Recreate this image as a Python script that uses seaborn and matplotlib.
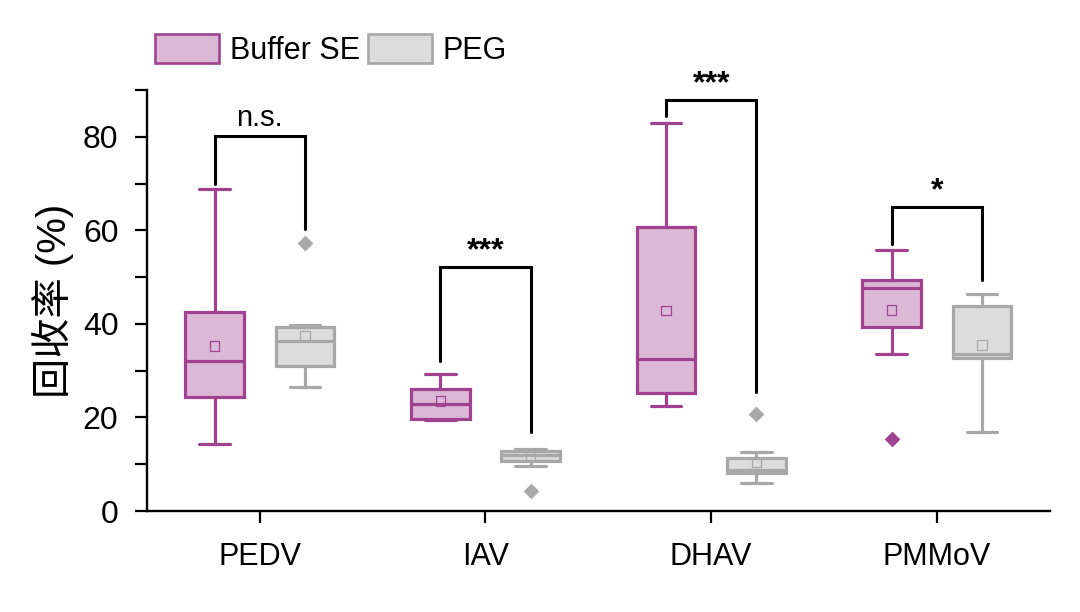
import numpy as np
import pandas as pd
import seaborn as sns
from matplotlib import pyplot as plt
from matplotlib.patches import Patch
from matplotlib.ticker import MultipleLocator

sns.set_theme(style="ticks")
plt.rcParams["font.family"] = ["Liberation Sans", "Noto Sans CJK SC", "DejaVu Sans"]
plt.rcParams["text.color"] = "black"
plt.rcParams["xtick.color"] = "black"
plt.rcParams["ytick.color"] = "black"
plt.rcParams["axes.labelcolor"] = "black"

viruses = ["PEDV", "IAV", "DHAV", "PMMoV"]
groups = ["Buffer SE", "PEG"]

# box statistics (%)
buffer_whislo = [14.3, 19.5, 22.5, 33.6]
buffer_q1 = [24.4, 19.7, 25.2, 39.4]
buffer_med = [32.1, 22.9, 32.5, 47.6]
buffer_q3 = [42.6, 26.0, 60.8, 49.4]
buffer_whishi = [68.9, 29.3, 82.9, 55.8]
buffer_mean = [35.3, 23.5, 42.8, 43.0]
buffer_out = [[], [], [], [15.3]]

peg_whislo = [26.5, 9.7, 5.9, 16.8]
peg_q1 = [31.0, 10.7, 8.2, 32.8]
peg_med = [36.4, 12.0, 8.8, 33.6]
peg_q3 = [39.4, 12.9, 11.4, 43.9]
peg_whishi = [39.8, 13.3, 12.7, 46.3]
peg_mean = [37.4, 11.7, 10.4, 35.5]
peg_out = [[57.3], [4.3], [20.7], []]

# significance brackets: top, left leg end, right leg end, label
sig_top = [80.1, 52.1, 87.8, 64.9]
sig_left = [69.9, 32.1, 84.5, 57.0]
sig_right = [60.3, 16.8, 25.4, 49.4]
sig_text = ["n.s.", "***", "***", "*"]

edge_cols = {"Buffer SE": "#A0428F", "PEG": "#A8A8A8"}
fill_cols = {"Buffer SE": "#DBB8D5", "PEG": "#DCDCDC"}
offset = 0.2
width = 0.26


def make_stats(lo, q1, med, q3, hi, mean, out):
    return [dict(whislo=lo[i], q1=q1[i], med=med[i], q3=q3[i], whishi=hi[i],
                 mean=mean[i], fliers=out[i]) for i in range(len(viruses))]


stats = {"Buffer SE": make_stats(buffer_whislo, buffer_q1, buffer_med, buffer_q3, buffer_whishi, buffer_mean, buffer_out),
         "PEG": make_stats(peg_whislo, peg_q1, peg_med, peg_q3, peg_whishi, peg_mean, peg_out)}

fig = plt.figure(figsize=(10.8, 6.12), dpi=100)
ax = fig.add_axes([0.136, 0.165, 0.836, 0.688])

x = np.arange(len(viruses))
rows = []
for k, g in enumerate(groups):
    pos = x + (-offset if k == 0 else offset)
    ec = edge_cols[g]
    lw = 2.3
    ax.bxp(stats[g], positions=pos, widths=width, capwidths=width * 0.52, patch_artist=True,
           showfliers=False, showmeans=False,
           boxprops=dict(facecolor=fill_cols[g], edgecolor=ec, linewidth=lw),
           medianprops=dict(color=ec, linewidth=lw),
           whiskerprops=dict(color=ec, linewidth=lw),
           capprops=dict(color=ec, linewidth=lw), zorder=2)
    for i, p in enumerate(pos):
        rows.append(dict(x=p, y=stats[g][i]["mean"], group=g, kind="mean"))
        for v in stats[g][i]["fliers"]:
            rows.append(dict(x=p, y=v, group=g, kind="out"))

pts = pd.DataFrame(rows)
means = pts[pts.kind == "mean"]
outs = pts[pts.kind == "out"]
for g in groups:
    sns.scatterplot(data=means[means.group == g], x="x", y="y", marker="s", s=45,
                    facecolor="none", edgecolor=edge_cols[g], linewidth=0.9, ax=ax, zorder=3, legend=False)
    sns.scatterplot(data=outs[outs.group == g], x="x", y="y", marker="D", s=55,
                    color=edge_cols[g], edgecolor=edge_cols[g], ax=ax, zorder=3, legend=False)

# brackets
for i in range(len(viruses)):
    xl, xr = x[i] - offset, x[i] + offset
    ax.plot([xl, xl, xr, xr], [sig_left[i], sig_top[i], sig_top[i], sig_right[i]],
            color="black", lw=2.2, solid_joinstyle="miter", zorder=4)
    if sig_text[i] == "n.s.":
        ax.text(x[i], sig_top[i] + 1.0, sig_text[i], ha="center", va="bottom", fontsize=21)
    else:
        ax.text(x[i], sig_top[i] + 0.3, sig_text[i], ha="center", va="bottom", fontsize=23, fontweight="bold")

ax.set_xlim(-0.5, 3.5)
ax.set_ylim(0, 90)
ax.set_xticks(x)
ax.set_xticklabels(viruses, fontsize=22)
ax.set_yticks([0, 20, 40, 60, 80])
ax.yaxis.set_minor_locator(MultipleLocator(10))
ax.tick_params(axis="y", which="both", labelsize=23, length=8.5, width=1.6, direction="out", pad=12)
ax.tick_params(axis="x", which="major", length=8.5, width=1.6, direction="out", pad=14)
ax.set_ylabel("回收率 (%)", fontsize=29, labelpad=6)
ax.set_xlabel("")
sns.despine(ax=ax)
for s in ["left", "bottom"]:
    ax.spines[s].set_linewidth(1.7)
    ax.spines[s].set_color("black")

handles = [Patch(facecolor=fill_cols[g], edgecolor=edge_cols[g], linewidth=1.9, label=g) for g in groups]
fig.legend(handles=handles, loc="upper left", bbox_to_anchor=(0.118, 0.99), ncol=2, frameon=False,
           fontsize=22, handlelength=2.1, handleheight=1.1, handletextpad=0.35, columnspacing=0.25)

fig.savefig("out.png", dpi=100)
